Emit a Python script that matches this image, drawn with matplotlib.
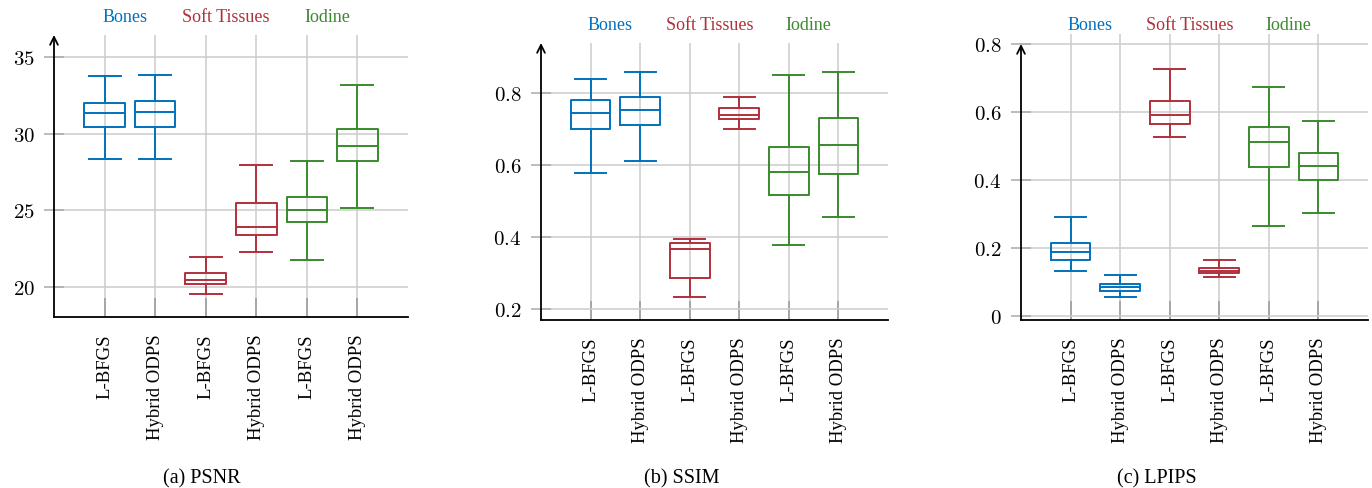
import matplotlib.pyplot as plt
import matplotlib.transforms as mtransforms
import numpy as np

plt.rcParams['font.family'] = ['Liberation Serif', 'DejaVu Serif']
plt.rcParams['mathtext.fontset'] = 'cm'

methods = ['L-BFGS', 'Hybrid ODPS'] * 3
groups = ['Bones', 'Soft Tissues', 'Iodine']
group_colors = ['#0072BD', '#B0303C', '#3A8A2E']

# per box: (whislo, q1, med, q3, whishi)
psnr = [(28.35, 30.40, 31.36, 32.01, 33.72),
        (28.35, 30.45, 31.42, 32.14, 33.79),
        (19.57, 20.19, 20.48, 20.91, 21.95),
        (22.32, 23.38, 23.92, 25.48, 27.98),
        (21.80, 24.23, 25.05, 25.85, 28.24),
        (25.14, 28.19, 29.21, 30.27, 33.16)]
ssim = [(0.578, 0.699, 0.745, 0.779, 0.838),
        (0.610, 0.710, 0.753, 0.789, 0.857),
        (0.234, 0.286, 0.366, 0.384, 0.394),
        (0.699, 0.727, 0.737, 0.757, 0.789),
        (0.377, 0.516, 0.580, 0.650, 0.849),
        (0.454, 0.574, 0.656, 0.731, 0.858)]
lpips = [(0.1315, 0.163, 0.1875, 0.215, 0.2906),
         (0.056, 0.0726, 0.0834, 0.0933, 0.1198),
         (0.527, 0.565, 0.590, 0.631, 0.727),
         (0.113, 0.1256, 0.1325, 0.141, 0.163),
         (0.265, 0.438, 0.510, 0.5556, 0.674),
         (0.302, 0.3995, 0.4417, 0.48, 0.573)]

panels = [
    dict(data=psnr, caption='(a) PSNR', ylim=(18.07, 36.41), ticks=[20, 25, 30, 35],
         rect=[54, 36, 408, 318], label_y=17, arrow_top=1.0, cap_x=202),
    dict(data=ssim, caption='(b) SSIM', ylim=(0.1695, 0.938), ticks=[0.2, 0.4, 0.6, 0.8],
         rect=[541, 44, 888, 321], label_y=25, arrow_top=1.0, cap_x=682),
    dict(data=lpips, caption='(c) LPIPS', ylim=(-0.0127, 0.829), ticks=[0, 0.2, 0.4, 0.6, 0.8],
         rect=[1021, 35, 1368, 321], label_y=25, arrow_top=0.965, cap_x=1157),
]

W, H = 1372, 489
fig = plt.figure(figsize=(W / 100, H / 100), dpi=100)

for p in panels:
    l, t, r, b = p['rect']
    ax = fig.add_axes([l / W, 1 - b / H, (r - l) / W, (b - t) / H])
    stats = []
    for name, v in zip(methods, p['data']):
        stats.append(dict(label=name, whislo=v[0], q1=v[1], med=v[2], q3=v[3], whishi=v[4], fliers=[]))
    pos = np.arange(1, 7)
    bp = ax.bxp(stats, positions=pos, widths=0.8, capwidths=0.63, showfliers=False,
                patch_artist=False, zorder=3)
    for i in range(6):
        c = group_colors[i // 2]
        bp['boxes'][i].set(color=c, lw=1.4)
        bp['medians'][i].set(color=c, lw=1.4)
        for k in (2 * i, 2 * i + 1):
            bp['whiskers'][k].set(color=c, lw=1.4)
            bp['caps'][k].set(color=c, lw=1.4)

    ax.set_xlim(0, 7)
    ax.set_ylim(*p['ylim'])
    ax.set_yticks(p['ticks'])
    ax.set_yticklabels(['$%g$' % v for v in p['ticks']], fontsize=15)
    ax.set_xticks(pos)
    ax.set_xticklabels(methods, rotation=90, fontsize=13.5, va='top', ha='center')
    ax.grid(True, color='#cccccc', lw=1.1, zorder=0)
    ax.set_axisbelow(True)
    for s in ('top', 'right', 'left'):
        ax.spines[s].set_visible(False)
    ax.spines['bottom'].set(lw=1.3, color='black')
    ax.tick_params(axis='y', direction='inout', length=14, width=1.1, color='#aaaaaa', pad=7)
    ax.tick_params(axis='x', direction='in', length=14, width=1.1, color='#999999', pad=12)
    ax.annotate('', xy=(0, p['arrow_top']), xytext=(0, 0), xycoords='axes fraction',
                arrowprops=dict(arrowstyle='->', lw=1.3, color='black', shrinkA=0, shrinkB=0,
                                mutation_scale=14))

    tr = mtransforms.blended_transform_factory(ax.transData, fig.transFigure)
    for g, (name, c) in enumerate(zip(groups, group_colors)):
        ax.text(1.4 + 2 * g, 1 - p['label_y'] / H, name, color=c, fontsize=13,
                ha='center', va='center', transform=tr)

    fig.text(p['cap_x'] / W, 1 - 479 / H, p['caption'], fontsize=14.5, ha='center', va='center')

fig.savefig('out.png', dpi=100)
